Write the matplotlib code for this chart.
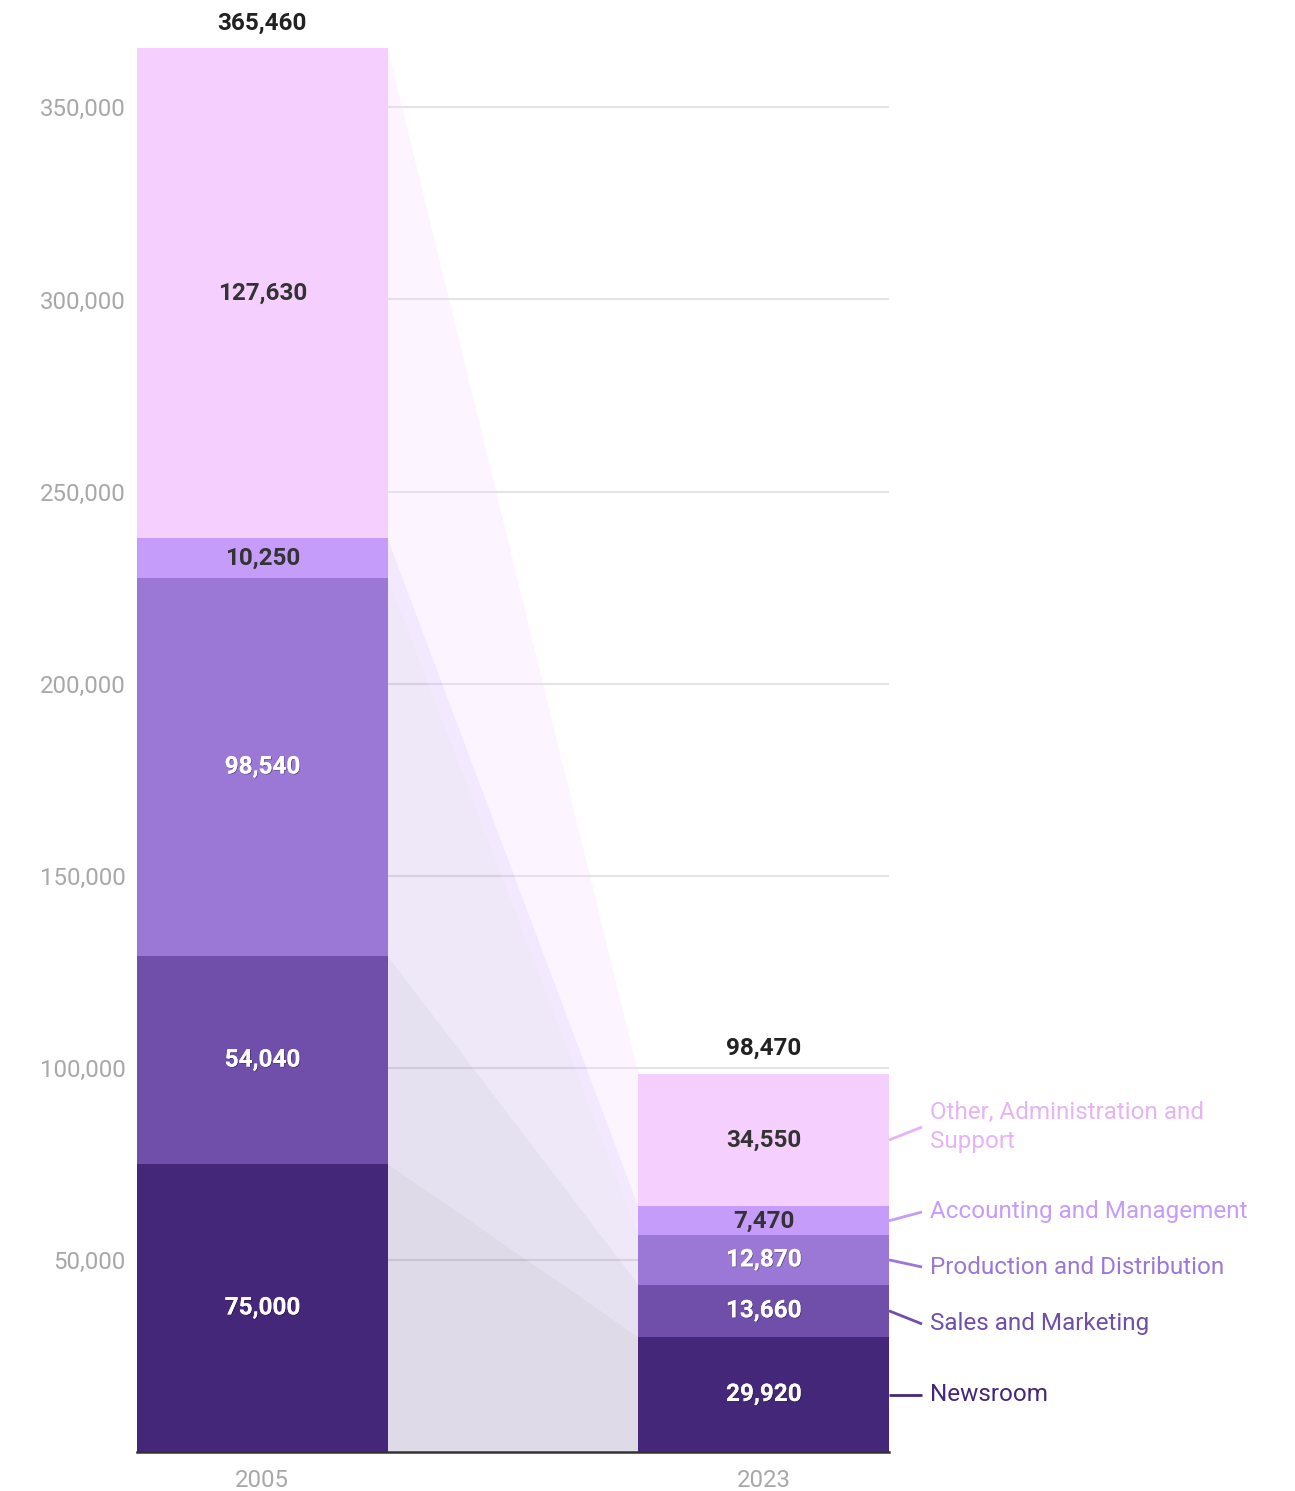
import matplotlib
matplotlib.use("Agg")
import matplotlib.pyplot as plt
import matplotlib.patheffects as pe
from matplotlib.patches import Polygon

plt.rcParams['font.family'] = ['Roboto', 'DejaVu Sans']

years = ["2005", "2023"]
categories = ["Newsroom", "Sales and Marketing", "Production and Distribution",
              "Accounting and Management", "Other, Administration and\nSupport"]
values_2005 = [75000, 54040, 98540, 10250, 127630]
values_2023 = [29920, 13660, 12870, 7470, 34550]
colors = ["#45277a", "#6f4faa", "#9b78d6", "#c69cfb", "#f5d0fe"]
label_colors = ["#45277a", "#6f4faa", "#9b78d6", "#c69cfb", "#e6b3f5"]
dark_text = [False, False, False, True, True]
yticks = [50000, 100000, 150000, 200000, 250000, 300000, 350000]

W, H = 1295, 1491
fig = plt.figure(figsize=(W / 100, H / 100), dpi=100)
ax = fig.add_axes([137 / W, 1 - 1452 / H, (889 - 137) / W, (1452 - 48) / H])

bw = 0.5
xs = [0, 1]
series = [values_2005, values_2023]
total = [sum(v) for v in series]
ax.set_xlim(-0.25, 1.25)
ax.set_ylim(0, total[0])

# gridlines
for t in yticks:
    ax.axhline(t, color="#e4e4e4", lw=1.5, zorder=0.5)

shadow = [pe.withSimplePatchShadow(offset=(0.6, -0.6), shadow_rgbFace="black", alpha=0.35),
          pe.Normal()]

bottoms = [[0] * len(categories), [0] * len(categories)]
for j, vals in enumerate(series):
    b = 0
    for i, v in enumerate(vals):
        bottoms[j][i] = b
        b += v

# connectors
for i in range(len(categories)):
    b0, t0 = bottoms[0][i], bottoms[0][i] + values_2005[i]
    b1, t1 = bottoms[1][i], bottoms[1][i] + values_2023[i]
    poly = Polygon([(xs[0] + bw / 2, b0), (xs[0] + bw / 2, t0),
                    (xs[1] - bw / 2, t1), (xs[1] - bw / 2, b1)],
                   closed=True, facecolor=colors[i], alpha=0.17 if i < 3 else 0.22,
                   edgecolor="none", zorder=1)
    ax.add_patch(poly)

FS = 17.5
# bars + labels
for j, vals in enumerate(series):
    for i, v in enumerate(vals):
        ax.bar(xs[j], v, bw, bottom=bottoms[j][i], color=colors[i], zorder=3, linewidth=0)
        c = bottoms[j][i] + v / 2
        if dark_text[i]:
            ax.text(xs[j], c, f"{v:,}", ha="center", va="center", fontsize=FS,
                    fontweight="bold", color="#333333", zorder=5)
        else:
            ax.text(xs[j], c, f"{v:,}", ha="center", va="center", fontsize=FS,
                    fontweight="bold", color="white", zorder=5, path_effects=shadow)
    ax.text(xs[j], total[j] + 3500, f"{total[j]:,}", ha="center", va="bottom",
            fontsize=FS, fontweight="bold", color="#222222", zorder=5, clip_on=False)

# category labels with leader lines
label_offsets = [0, -3430, -1870, 2300, 3400]
x_line0 = xs[1] + bw / 2
x_line1 = 1.316
x_text = 1.332
for i, name in enumerate(categories):
    c = bottoms[1][i] + values_2023[i] / 2
    ly = c + label_offsets[i]
    ax.plot([x_line0, x_line1], [c, ly], color=label_colors[i], lw=2,
            clip_on=False, zorder=4, solid_capstyle="butt")
    ax.text(x_text, ly, name, ha="left", va="center", fontsize=FS,
            color=label_colors[i], clip_on=False, linespacing=1.3)

# baseline
ax.axhline(0, color="#333333", lw=1.8, zorder=6, clip_on=False)

ax.set_yticks(yticks)
ax.set_yticklabels([f"{t:,}" for t in yticks])
ax.set_xticks(xs)
ax.set_xticklabels(years)
ax.tick_params(axis="both", length=0, labelsize=17.3, labelcolor="#a8a8a8")
ax.tick_params(axis="y", pad=8)
ax.tick_params(axis="x", pad=12)
for s in ax.spines.values():
    s.set_visible(False)

fig.savefig("out.png", dpi=100, facecolor="white")
